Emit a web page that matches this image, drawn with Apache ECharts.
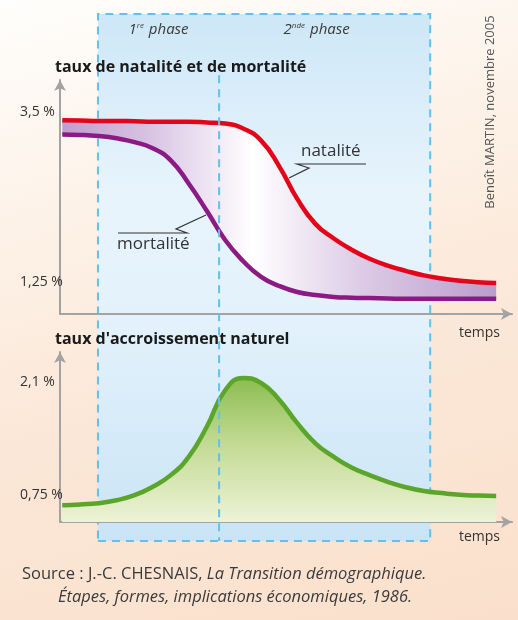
<!DOCTYPE html>
<html>
<head>
<meta charset="utf-8">
<script src="https://cdn.jsdelivr.net/npm/echarts@6/dist/echarts.min.js"></script>
<style>
  html, body { margin: 0; padding: 0; }
  #chart {
    width: 518px; height: 620px;
    background: linear-gradient(165deg, #fefefc 0%, #fdf2e8 30%, #fbe7d7 60%, #fae0cc 100%);
  }
</style>
</head>
<body>
<div id="chart"></div>
<script>
// temps (unités arbitraires 0..100), pas régulier
var temps = [0.5, 4.5, 8.5, 12.5, 16.5, 20.5, 24.5, 28.5, 32.5, 36.5, 40.5, 44.5, 48.5,
             52.5, 56.5, 60.5, 64.5, 68.5, 72.5, 76.5, 80.5, 84.5, 88.5, 92.5, 96.5];
var natalite = [3.39, 3.385, 3.38, 3.38, 3.375, 3.37, 3.37, 3.37, 3.36, 3.345, 3.28, 3.12, 2.78,
                2.35, 2.02, 1.83, 1.68, 1.56, 1.47, 1.40, 1.34, 1.30, 1.27, 1.25, 1.24];
var mortalite = [3.20, 3.195, 3.18, 3.15, 3.10, 3.02, 2.86, 2.55, 2.19, 1.81, 1.53, 1.32, 1.20,
                 1.12, 1.08, 1.055, 1.045, 1.04, 1.035, 1.03, 1.03, 1.03, 1.03, 1.03, 1.03];
var accroissement = [0.63, 0.64, 0.655, 0.69, 0.75, 0.85, 0.99, 1.21, 1.57, 2.00, 2.15, 2.09, 1.89,
                     1.61, 1.37, 1.21, 1.08, 0.99, 0.91, 0.845, 0.80, 0.775, 0.755, 0.745, 0.74];

var phases = [8.4, 35.2, 81.9];
var phaseNames = ['1{s|re} phase', '2{s|nde} phase'];
var separation = [0.884, 0]; // hauteur (0..1) du trait entre les deux phases
var ticksHaut = [1.25, 3.5];
var ticksBas = [0.75, 2.1];

var FONT = 'Open Sans';
var AXIS = '#a3a3a3';
var BLEU = '#62c1ea';
var LISSE = 0.5;

function pairs(xs, ys) {
  return xs.map(function(x, i) { return [x, ys[i]]; });
}
// valeur d'abord, pour que l'empilement se fasse sur y
function pairsVT(xs, ys) {
  return xs.map(function(x, i) { return [ys[i], x]; });
}
function pct(v) { return String(v).replace('.', ',') + ' %'; }

var chart = echarts.init(document.getElementById('chart'), null, {renderer: 'canvas'});

function xAxe(idx, show, pad) {
  return {
    type: 'value', gridIndex: idx, min: 0, max: 100, z: 1,
    show: show,
    axisLine: {show: show, symbol: ['none', 'arrow'], symbolSize: [9, 11], lineStyle: {color: AXIS, width: 2}},
    axisTick: {show: false}, axisLabel: {show: false}, splitLine: {show: false},
    name: show ? 'temps' : '', nameLocation: 'end', nameGap: -12,
    nameTextStyle: {fontFamily: FONT, fontSize: 14, color: '#333', align: 'right', verticalAlign: 'top', padding: [pad || 0, 0, 0, 0]}
  };
}
function yAxe(idx, min, max, ticks, titre) {
  return {
    type: 'value', gridIndex: idx, min: min, max: max, z: 1,
    axisLine: {show: true, symbol: ['none', 'arrow'], symbolSize: [9, 11], lineStyle: {color: AXIS, width: 2}},
    axisTick: {show: false}, splitLine: {show: false},
    axisLabel: {customValues: ticks, formatter: pct, align: 'left', margin: 40,
      fontFamily: FONT, fontSize: 14, color: '#333'},
    name: titre, nameLocation: 'end', nameGap: 5,
    nameTextStyle: {fontFamily: FONT, fontSize: 16, fontWeight: 'bold', color: '#1a1a1a', align: 'left', padding: [0, 0, 0, -5]}
  };
}

var transparent = {color: 'rgba(0,0,0,0)', borderWidth: 0};

var option = {
  animation: false,
  grid: [
    {left: 60, top: 80, width: 452, height: 234},
    {left: 60, top: 352, width: 452, height: 170},
    {left: 60, top: 14, width: 452, height: 527}
  ],
  xAxis: [xAxe(0, true, 12), xAxe(1, true, 8), xAxe(2, false)],
  yAxis: [
    yAxe(0, 0.83, 3.92, ticksHaut, 'taux de natalité et de mortalité'),
    yAxe(1, 0.43, 2.46, ticksBas, "taux d'accroissement naturel"),
    {type: 'value', gridIndex: 2, min: 0, max: 1, show: false}
  ],
  series: [
    {
      // fond du cadre des phases
      type: 'line', xAxisIndex: 2, yAxisIndex: 2, data: [], z: 0, silent: true,
      markArea: {
        silent: true,
        data: [
          [{xAxis: phases[0], itemStyle: {
              color: new echarts.graphic.LinearGradient(0, 0, 0, 1, [
                {offset: 0, color: '#cde7f7'}, {offset: 0.35, color: '#e8f4fc'},
                {offset: 0.6, color: '#e2f1fb'}, {offset: 1, color: '#c9e4f6'}]),
              borderWidth: 0}},
           {xAxis: phases[2]}]
        ]
      }
    },
    {
      // bordure pointillée et noms des phases (au-dessus des courbes)
      type: 'line', xAxisIndex: 2, yAxisIndex: 2, data: [], z: 5, silent: true,
      markArea: {
        silent: true,
        data: [
          [{xAxis: phases[0], itemStyle: {color: 'rgba(0,0,0,0)', borderColor: BLEU, borderWidth: 2, borderType: [8, 6]},
            label: {show: false}},
           {xAxis: phases[2]}],
          [{xAxis: phases[0], name: phaseNames[0], itemStyle: transparent}, {xAxis: phases[1]}],
          [{xAxis: phases[1], name: phaseNames[1], itemStyle: transparent, label: {offset: [-8, 0]}}, {xAxis: phases[2]}]
        ],
        label: {
          show: true, position: 'insideTop', distance: 8,
          fontFamily: FONT, fontSize: 15, fontStyle: 'italic', color: '#3a3a3a',
          rich: {s: {fontFamily: FONT, fontSize: 8, fontStyle: 'italic', color: '#3a3a3a', verticalAlign: 'top', padding: [0, 1, 6, 0]}}
        }
      }
    },
    {
      // trait pointillé entre les deux phases
      type: 'line', xAxisIndex: 2, yAxisIndex: 2, z: 5, silent: true, showSymbol: false,
      data: separation.map(function(y) { return [phases[1], y]; }),
      lineStyle: {color: BLEU, width: 2, type: [8, 6], cap: 'butt'}
    },
    {
      name: 'base', type: 'line', xAxisIndex: 0, yAxisIndex: 0, stack: 'ecart',
      encode: {x: 1, y: 0},
      data: pairsVT(temps, mortalite), smooth: LISSE,
      showSymbol: false, lineStyle: {opacity: 0}, z: 2, silent: true
    },
    {
      name: 'ecart', type: 'line', xAxisIndex: 0, yAxisIndex: 0, stack: 'ecart',
      encode: {x: 1, y: 0},
      data: pairsVT(temps, natalite.map(function(v, i) { return v - mortalite[i]; })),
      smooth: LISSE, showSymbol: false, lineStyle: {opacity: 0}, z: 2, silent: true,
      areaStyle: {opacity: 1, color: new echarts.graphic.LinearGradient(0, 0, 1, 0, [
        {offset: 0, color: '#c09dd0'}, {offset: 0.2, color: '#d8c3e3'}, {offset: 0.44, color: '#ffffff'},
        {offset: 0.7, color: '#dbc9e5'}, {offset: 1, color: '#bb9dcc'}])}
    },
    {
      name: 'mortalité', type: 'line', xAxisIndex: 0, yAxisIndex: 0,
      data: pairs(temps, mortalite), smooth: LISSE, showSymbol: false, z: 3,
      lineStyle: {color: '#8b1a84', width: 4.5, cap: 'butt'}
    },
    {
      name: 'natalité', type: 'line', xAxisIndex: 0, yAxisIndex: 0,
      data: pairs(temps, natalite), smooth: LISSE, showSymbol: false, z: 3,
      lineStyle: {color: '#e3061a', width: 4.5, cap: 'butt'}
    },
    {
      name: 'accroissement', type: 'line', xAxisIndex: 1, yAxisIndex: 1,
      data: pairs(temps, accroissement), smooth: LISSE, showSymbol: false, z: 3,
      lineStyle: {color: '#5aa52a', width: 4.5, cap: 'butt'},
      areaStyle: {origin: 'start', opacity: 1, color: new echarts.graphic.LinearGradient(0, 0, 0, 1, [
        {offset: 0, color: '#8cbd50'}, {offset: 0.45, color: '#c2da93'}, {offset: 1, color: '#edf3d7'}])}
    }
  ],
  graphic: [
    // étiquettes des courbes
    {type: 'text', left: 301, top: 143, z: 10, style: {text: 'natalité', font: '17px "Open Sans"', fill: '#333'}},
    {type: 'polyline', z: 10, shape: {points: [[366, 164], [297, 164], [309, 168], [289, 178]]},
      style: {stroke: '#333', lineWidth: 1.2, fill: null}},
    {type: 'text', left: 117, top: 236, z: 10, style: {text: 'mortalité', font: '17px "Open Sans"', fill: '#333'}},
    {type: 'polyline', z: 10, shape: {points: [[118, 233], [187, 233], [176, 229], [206, 215]]},
      style: {stroke: '#333', lineWidth: 1.2, fill: null}},
    // crédit vertical
    {type: 'text', x: 490, y: 112, rotation: Math.PI / 2, z: 10,
      style: {text: 'Benoît MARTIN, novembre 2005', font: '13px "Open Sans"', fill: '#555', align: 'center', verticalAlign: 'middle'}},
    // source
    {type: 'text', left: 22, top: 566, z: 10,
      style: {text: 'Source : J.-C. CHESNAIS, {i|La Transition démographique.}',
        font: '16.5px "Open Sans"', fill: '#3a3a3a',
        rich: {i: {fontFamily: FONT, fontSize: 16.5, fontStyle: 'italic', fill: '#3a3a3a'}}}},
    {type: 'text', left: 58, top: 589, z: 10,
      style: {text: 'Étapes, formes, implications économiques, 1986.', font: 'italic 16.5px "Open Sans"', fill: '#3a3a3a'}}
  ]
};

chart.setOption(option);
</script>
</body>
</html>
